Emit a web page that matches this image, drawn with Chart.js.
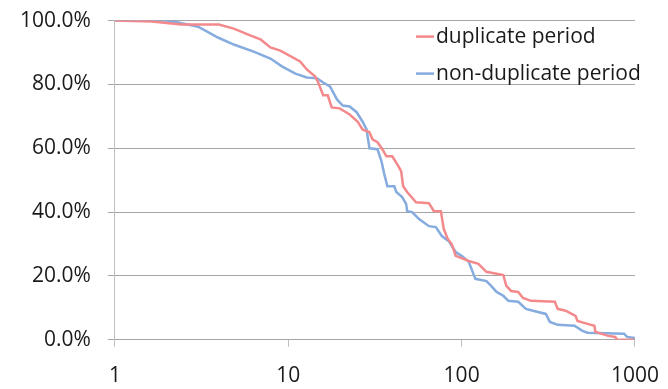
<!DOCTYPE html>
<html>
<head>
<meta charset="utf-8">
<script src="https://cdn.jsdelivr.net/npm/chart.js@4/dist/chart.umd.min.js"></script>
<style>
  html, body { margin: 0; padding: 0; background: #fff; overflow: hidden; }
  #frame { width: 668px; height: 389px; position: relative; overflow: hidden; }
  #wrap { width: 676px; height: 415px; position: absolute; left: 0; top: -9px; }
</style>
</head>
<body>
<div id="frame"><div id="wrap"><canvas id="chart"></canvas></div></div>
<script>
/* ---------- DATA ---------- */
const seriesNames = ["duplicate period", "non-duplicate period"];
const xTicks = [1, 10, 100, 1000];
const yTicks = [0, 20, 40, 60, 80, 100];

// duplicate period: x (log scale), share remaining (%)
const dupX = [1, 1.63, 2.42, 3.98, 4.85, 6.07, 6.92, 7.89, 9.0, 11.7, 12.8, 14.3, 14.8,
  15.9, 16.9, 17.8, 19.8, 22.6, 25.1, 26.8, 29.4, 30.6, 32.7, 34.9, 36.8, 39.8, 42.5,
  44.8, 46.0, 48.5, 54.6, 64.8, 69.2, 75.9, 78.9, 83.2, 87.7, 92.4, 110, 125, 139, 174,
  181, 193, 212, 226, 251, 345, 358, 398, 454, 466, 532, 583, 591, 692, 769, 789, 987];
const dupY = [100, 99.7, 98.8, 98.8, 97.5, 95.3, 94.1, 91.6, 90.6, 87.2, 84.7, 82.5, 80.9,
  76.6, 76.6, 72.8, 72.5, 70.6, 68.4, 65.9, 65.0, 62.8, 61.9, 59.7, 57.5, 57.5, 55.0,
  52.8, 48.1, 46.3, 43.1, 42.8, 40.3, 40.3, 34.7, 31.6, 30.0, 26.3, 24.7, 23.8, 21.3, 20.3,
  16.9, 15.3, 15.0, 13.1, 12.2, 11.9, 9.7, 9.1, 7.5, 5.9, 5.0, 4.4, 2.5, 1.3, 0.9, 0, 0];

// non-duplicate period
const nonX = [1, 1.98, 2.32, 3.02, 3.93, 4.85, 6.31, 7.89, 9.24, 11.0, 12.8, 14.7, 15.9,
  17.4, 19.1, 20.6, 22.6, 24.8, 26.8, 28.3, 29.4, 32.7, 34.5, 35.8, 37.3, 40.9, 42.0,
  45.4, 47.9, 48.5, 51.8, 56.8, 64.8, 71.0, 76.9, 84.3, 92.4, 100, 110, 120, 139, 148,
  159, 174, 186, 212, 235, 258, 306, 323, 358, 448, 498, 532, 865, 900, 1000];
const nonY = [100, 100, 99.4, 98.1, 94.7, 92.5, 90.3, 88.1, 85.6, 83.4, 82.2, 81.9, 80.6,
  79.4, 75.3, 73.4, 73.1, 71.3, 68.4, 65.9, 60.0, 59.7, 55.9, 51.9, 48.1, 48.1, 46.3,
  44.7, 42.5, 40.3, 40.0, 37.8, 35.6, 35.3, 32.5, 30.9, 27.5, 26.3, 24.4, 19.1, 18.4, 16.9,
  15.0, 13.8, 12.2, 11.9, 9.7, 9.1, 8.1, 5.6, 4.7, 4.4, 2.8, 2.2, 1.9, 0.9, 0.6];

const colors = ["#F4898C", "#86ACDF"];
const FONT = "'Open Sans', 'Liberation Sans', sans-serif";

function toPoints(xs, ys) {
  return xs.map((x, i) => ({ x: x, y: ys[i] }));
}

/* ---------- LEGEND drawn inside the plot ---------- */
const insideLegend = {
  id: "insideLegend",
  afterDraw(chart) {
    const ctx = chart.ctx;
    const top = chart.chartArea.top;
    const x0 = 416;
    const rows = [top + 16, top + 53];
    ctx.save();
    ctx.font = "21px " + FONT;
    ctx.textBaseline = "middle";
    ctx.textAlign = "left";
    chart.data.datasets.forEach((ds, i) => {
      ctx.strokeStyle = ds.borderColor;
      ctx.lineWidth = 2.5;
      ctx.beginPath();
      ctx.moveTo(x0, rows[i]);
      ctx.lineTo(x0 + 18, rows[i]);
      ctx.stroke();
      ctx.fillStyle = "#1a1a1a";
      ctx.fillText(ds.label, x0 + 20, rows[i]);
    });
    ctx.restore();
  }
};

new Chart(document.getElementById("chart"), {
  type: "line",
  data: {
    datasets: [
      {
        label: seriesNames[0],
        data: toPoints(dupX, dupY),
        borderColor: colors[0],
        borderWidth: 2.5,
        pointRadius: 0,
        tension: 0,
        fill: false
      },
      {
        label: seriesNames[1],
        data: toPoints(nonX, nonY),
        borderColor: colors[1],
        borderWidth: 2.5,
        pointRadius: 0,
        tension: 0,
        fill: false
      }
    ]
  },
  options: {
    responsive: true,
    maintainAspectRatio: false,
    animation: false,
    layout: {
      autoPadding: false,
      padding: { top: 12, right: 25, left: 3, bottom: 0 }
    },
    plugins: {
      legend: { display: false },
      tooltip: { enabled: false }
    },
    scales: {
      x: {
        type: "logarithmic",
        min: 1,
        max: 1000,
        afterBuildTicks: axis => { axis.ticks = xTicks.map(v => ({ value: v })); },
        grid: {
          drawOnChartArea: false,
          drawTicks: true,
          tickLength: 7,
          color: "#BFBFBF"
        },
        border: { display: true, color: "#A6A6A6" },
        ticks: {
          color: "#1a1a1a",
          font: { family: FONT, size: 21 },
          padding: 17,
          maxRotation: 0,
          callback: v => String(v)
        }
      },
      y: {
        min: 0,
        max: 100,
        afterBuildTicks: axis => { axis.ticks = yTicks.map(v => ({ value: v })); },
        grid: {
          color: "#A6A6A6",
          drawTicks: true,
          tickLength: 7,
          lineWidth: 1
        },
        border: { display: true, color: "#BFBFBF" },
        ticks: {
          color: "#1a1a1a",
          font: { family: FONT, size: 21 },
          padding: 17,
          callback: v => v.toFixed(1) + "%"
        }
      }
    }
  },
  plugins: [insideLegend]
});
</script>
</body>
</html>
